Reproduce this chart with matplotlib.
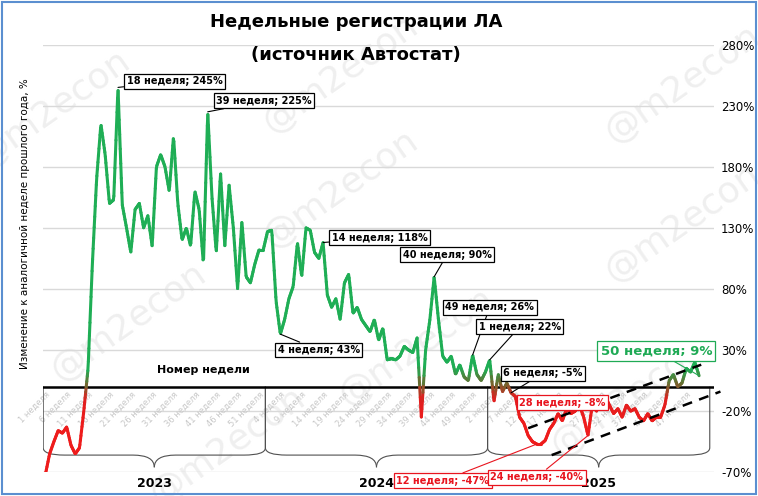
import numpy as np
import matplotlib
matplotlib.use("Agg")
import matplotlib.pyplot as plt
from matplotlib.collections import LineCollection
from matplotlib.colors import LinearSegmentedColormap
from matplotlib.path import Path
from matplotlib.patches import PathPatch, Rectangle

plt.rcParams['font.family'] = ['DejaVu Sans']

# weekly y/y change, %
y2023 = [-72, -55, -45, -36, -38, -33, -48, -55, -50, -20, 15, 100, 170, 215, 190, 150,
         153, 245, 149, 130, 110, 145, 150, 130, 140, 115, 180, 190, 180, 160, 205, 150,
         120, 130, 115, 160, 145, 100, 225, 155, 110, 175, 115, 165, 130, 80, 135, 90,
         85, 100, 112, 112]
y2024 = [127, 128, 70, 43, 55, 72, 82, 118, 90, 130, 128, 110, 105, 118, 75, 65,
         72, 55, 85, 92, 60, 65, 55, 50, 45, 55, 38, 48, 22, 23, 22, 25,
         33, 30, 28, 40, -25, 30, 55, 90, 55, 25, 20, 25, 10, 18, 8, 5,
         26, 10, 5, 12]
y2025 = [22, -12, 10, -4, 3, -5, -8, -25, -30, -40, -45, -47, -47, -44, -35, -30,
         -22, -28, -18, -22, -20, -15, -25, -40, -15, -20, -12, -8, -15, -22, -18, -25,
         -15, -20, -18, -25, -28, -22, -28, -25, -25, -15, 5, 10, 0, 3, 15, 12,
         20, 9]
values = np.array(y2023 + y2024 + y2025, dtype=float)
week_no = list(range(1, 53)) + list(range(1, 53)) + list(range(1, 51))
years = ['2023', '2024', '2025']
year_len = [52, 52, 52]
yticks = [-70, -20, 30, 80, 130, 180, 230, 280]

# (week index, text, text x, text y, colour, size, align)
notes = [
    (17, '18 неделя; 245%', 19, 250, 'black', 7, 'left'),
    (38, '39 неделя; 225%', 40, 234, 'black', 7, 'left'),
    (65, '14 неделя; 118%', 67, 122, 'black', 7, 'left'),
    (55, '4 неделя; 43%', 64, 30, 'black', 7, 'center'),
    (91, '40 неделя; 90%', 94, 108, 'black', 7, 'center'),
    (100, '49 неделя; 26%', 104, 65, 'black', 7, 'center'),
    (104, '1 неделя; 22%', 111, 49, 'black', 7, 'center'),
    (109, '6 неделя; -5%', 116.5, 11, 'black', 7, 'center'),
    (131, '28 неделя; -8%', 121, -13, '#e8141e', 7, 'center'),
    (115, '12 неделя; -47%', 93, -77, '#e8141e', 7, 'center'),
    (127, '24 неделя; -40%', 115, -74, '#e8141e', 7, 'center'),
    (153, '50 неделя; 9%', 143, 29, '#1faa55', 9.5, 'center'),
]
# channel lines (x0, y0, x1, y1)
channels = [(113, -34, 153.5, 18), (118.5, -56, 158, -4)]

fig = plt.figure(figsize=(7.58, 4.96), dpi=100)

for wx, wy in [(0.07, 0.78), (0.45, 0.85), (0.45, 0.62), (0.9, 0.83), (0.9, 0.55),
               (0.17, 0.35), (0.55, 0.3), (0.83, 0.2), (0.3, 0.1)]:
    fig.text(wx, wy, '@m2econ', fontsize=26, color='#efefef', rotation=35,
             ha='center', va='center', zorder=-5)

ax = fig.add_axes([0.057, 0.048, 0.885, 0.862])
ax.set_facecolor('none')
ax.set_xlim(-0.5, 156.5)
ax.set_ylim(-70, 280)

for t in yticks:
    ax.axhline(t, color='#d9d9d9', lw=1, zorder=0)
ax.axhline(0, color='black', lw=1.8, zorder=2)

# coloured line: green above zero, red below
cmap = LinearSegmentedColormap.from_list('rg', [(0, '#ee1c1c'), (0.35, '#e01f1f'),
                                               (0.55, '#6b6b30'), (0.75, '#1fae55'), (1, '#1fae55')])
x = np.arange(len(values))
xs = np.linspace(0, len(values) - 1, len(values) * 8)
ys = np.interp(xs, x, values)
pts = np.array([xs, ys]).T.reshape(-1, 1, 2)
segs = np.concatenate([pts[:-1], pts[1:]], axis=1)
mid = (ys[:-1] + ys[1:]) / 2
lc = LineCollection(segs, cmap=cmap, norm=plt.Normalize(-30, 30), lw=2.2, zorder=4,
                    capstyle='round', joinstyle='round')
lc.set_array(mid)
ax.add_collection(lc)

# week labels
for i in range(0, len(values), 5):
    ax.text(i + 1.5, -3, f'{week_no[i]} неделя', rotation=45, ha='right', va='top',
            fontsize=6, color='#c8c8c8', zorder=1)

# year braces
start = -0.5
for yr, n in zip(years, year_len):
    x0, x1 = start, start + n
    xm = (x0 + x1) / 2
    codes = [Path.MOVETO, Path.LINETO, Path.CURVE3, Path.CURVE3, Path.LINETO, Path.CURVE3, Path.CURVE3]
    left = Path([(x0, 0), (x0, -50), (x0, -56), (x0 + 5, -56), (xm - 5, -56), (xm, -56), (xm, -66)], codes)
    right = Path([(x1, 0), (x1, -50), (x1, -56), (x1 - 5, -56), (xm + 5, -56), (xm, -56), (xm, -66)], codes)
    for p in (left, right):
        ax.add_patch(PathPatch(p, fill=False, lw=0.8, ec='#505050', zorder=1))
    ax.text(xm, -79, yr, ha='center', va='center', fontsize=9, fontweight='bold', clip_on=False)
    start = x1

for x0, y0, x1, y1 in channels:
    ax.plot([x0, x1], [y0, y1], ls=(0, (4, 3)), color='black', lw=1.8, zorder=5, clip_on=False)

for i, txt, tx, ty, col, fs, al in notes:
    ax.annotate(txt, xy=(i, values[i]), xytext=(tx, ty), fontsize=fs, fontweight='bold',
                color=col, ha=al, va='center', zorder=6,
                annotation_clip=False,
                bbox=dict(boxstyle='square,pad=0.25', fc='white', ec=col, lw=0.9),
                arrowprops=dict(arrowstyle='-', color=col, lw=0.8, shrinkA=0, shrinkB=0))

ax.text(37, 14, 'Номер недели', fontsize=8, fontweight='bold', ha='center', va='center')

ax.set_xticks([])
ax.yaxis.tick_right()
ax.set_yticks(yticks)
ax.set_yticklabels([f'{t}%' for t in yticks], fontsize=8.5)
ax.tick_params(axis='y', length=0, pad=5)
for s in ax.spines.values():
    s.set_visible(False)

fig.text(0.033, 0.55, 'Изменение к аналогичной неделе прошлого года, %', rotation=90,
         ha='center', va='center', fontsize=7.5)
fig.text(0.47, 0.955, 'Недельные регистрации ЛА', ha='center', va='center',
         fontsize=13, fontweight='bold')
fig.text(0.47, 0.89, '(источник Автостат)', ha='center', va='center',
         fontsize=13, fontweight='bold')

fig.patches.append(Rectangle((0.003, 0.004), 0.994, 0.992, transform=fig.transFigure,
                             fill=False, ec='#5b8fd0', lw=1.5))

fig.savefig('out.png', dpi=100)
